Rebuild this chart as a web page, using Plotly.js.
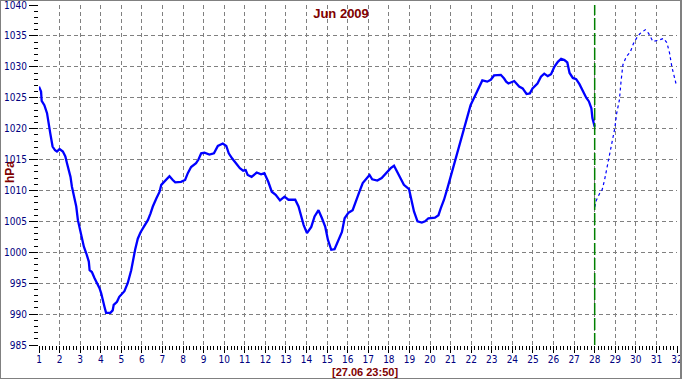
<!DOCTYPE html>
<html>
<head>
<meta charset="utf-8">
<script src="https://cdn.plot.ly/plotly-3.0.1.min.js"></script>
<style>
html,body{margin:0;padding:0;background:#fff;}
#wrap{position:relative;width:682px;height:380px;}
#chart{width:682px;height:380px;}
#frame{position:absolute;left:0;top:0;width:682px;height:379px;box-sizing:border-box;border:1px solid #808080;border-right-width:2px;pointer-events:none;}
</style>
</head>
<body>
<div id="wrap"><div id="chart"></div><div id="frame"></div></div>
<script>
// Measured pressure (day of month, hPa)
const measDays = [1.00,1.10,1.13,1.26,1.39,1.45,1.55,1.66,1.78,1.87,2.00,2.16,2.28,2.36,2.45,2.53,2.60,2.70,2.81,2.89,2.99,3.08,3.18,3.30,3.42,3.46,3.57,3.70,3.83,3.94,4.02,4.10,4.18,4.26,4.47,4.58,4.63,4.79,4.90,5.15,5.31,5.48,5.56,5.67,5.80,5.93,6.09,6.29,6.42,6.53,6.70,6.86,6.94,7.18,7.34,7.50,7.62,7.90,8.10,8.23,8.39,8.63,8.75,8.88,9.04,9.28,9.50,9.69,9.93,10.10,10.22,10.38,10.55,10.76,10.92,11.04,11.14,11.33,11.58,11.79,11.95,12.14,12.31,12.50,12.71,12.93,13.12,13.45,13.61,13.74,13.86,14.02,14.23,14.39,14.58,14.75,14.91,15.04,15.20,15.36,15.56,15.72,15.85,16.04,16.24,16.41,16.57,16.73,16.95,17.06,17.19,17.44,17.65,17.88,18.09,18.25,18.50,18.73,18.98,19.11,19.22,19.39,19.60,19.76,19.92,20.24,20.41,20.52,20.68,20.84,21.00,21.16,21.33,21.49,21.65,21.81,21.97,22.13,22.30,22.54,22.78,22.95,23.11,23.44,23.60,23.70,23.81,24.00,24.09,24.33,24.50,24.69,24.85,24.98,25.22,25.39,25.55,25.72,25.88,26.04,26.21,26.37,26.53,26.67,26.78,26.94,27.10,27.26,27.43,27.59,27.72,27.84,27.89,27.95,28.00];
const measHpa = [1026.8,1026.0,1024.5,1023.8,1022.5,1021.0,1019.2,1017.1,1016.5,1016.3,1016.7,1016.3,1015.5,1014.4,1013.3,1012.2,1010.6,1009.0,1007.4,1005.2,1003.6,1002.2,1000.9,999.8,998.5,997.1,996.8,995.8,995.0,994.2,993.4,992.0,991.2,990.2,990.2,990.6,991.5,992.0,992.8,993.7,995.0,997.1,998.7,1000.4,1002.2,1003.2,1004.1,1005.2,1006.3,1007.4,1008.7,1009.8,1010.9,1011.8,1012.3,1011.7,1011.3,1011.4,1011.7,1012.8,1013.8,1014.4,1015.0,1016.0,1016.1,1015.8,1016.0,1017.2,1017.6,1017.2,1016.0,1015.2,1014.4,1013.6,1013.2,1013.3,1012.5,1012.2,1012.9,1012.6,1012.8,1011.4,1009.8,1009.3,1008.4,1009.0,1008.5,1008.5,1007.4,1005.8,1004.4,1003.1,1004.1,1005.8,1006.8,1005.5,1004.1,1002.0,1000.4,1000.5,1002.0,1003.3,1005.5,1006.4,1006.8,1008.2,1009.8,1011.2,1012.0,1012.5,1011.8,1011.6,1012.0,1012.9,1013.6,1014.0,1012.5,1010.9,1010.2,1008.5,1006.6,1005.0,1004.8,1005.0,1005.5,1005.6,1006.0,1007.1,1008.5,1010.3,1012.2,1014.1,1016.0,1018.2,1020.1,1021.9,1023.8,1024.9,1026.2,1027.8,1027.6,1027.9,1028.6,1028.7,1028.1,1027.6,1027.3,1027.5,1027.7,1026.8,1026.5,1025.6,1025.7,1026.5,1027.3,1028.4,1028.9,1028.5,1028.8,1030.0,1030.8,1031.3,1031.1,1030.7,1029.0,1028.2,1028.0,1027.2,1026.0,1025.0,1024.4,1023.3,1021.7,1020.9,1020.3];

// Forecast pressure
const fcDays = [28.00,28.08,28.24,28.37,28.48,28.56,28.69,28.89,28.98,29.07,29.20,29.28,29.37,29.53,29.73,29.89,30.08,30.21,30.46,30.62,30.83,31.10,31.35,31.51,31.64,31.75,31.83,31.95];
const fcHpa = [1007.3,1008.4,1009.5,1010.2,1011.7,1013.0,1014.9,1018.2,1020.1,1022.5,1024.6,1027.6,1030.3,1031.6,1032.4,1033.8,1034.9,1035.4,1036.0,1035.4,1034.1,1034.3,1034.6,1033.9,1032.2,1030.0,1028.9,1027.3];

const nowDay = 28;
const titleText = 'Jun 2009';
const yLabel = 'hPa';
const stampText = '[27.06 23:50]';
const xRange = [1, 32];
const yRange = [985, 1040];

const tickFont = {family: 'Liberation Sans Narrow, Arial Narrow, DejaVu Sans Condensed, Liberation Sans, Arial, sans-serif', size: 10, color: '#000080'};
const redFont = {family: 'Liberation Sans, Arial, sans-serif', color: '#800000', weight: 'bold'};

const traces = [
  {x: measDays, y: measHpa, type: 'scatter', mode: 'lines', line: {color: '#0000ff', width: 2.3}, hoverinfo: 'skip'},
  {x: fcDays, y: fcHpa, type: 'scatter', mode: 'lines', line: {color: '#0000ff', width: 1.2, dash: '3px,3px'}, hoverinfo: 'skip'}
];

const layout = {
  width: 682, height: 380,
  margin: {l: 39, r: 5, t: 5, b: 35},
  paper_bgcolor: '#ffffff', plot_bgcolor: '#ffffff',
  showlegend: false,
  title: {text: titleText, font: Object.assign({size: 13}, redFont), x: 0.5, xref: 'container', xanchor: 'center', y: 1 - 13.5/380, yref: 'container', yanchor: 'middle'},
  xaxis: {
    range: xRange, tick0: 1, dtick: 1, ticks: 'outside', ticklen: 7, tickwidth: 1, tickcolor: '#000000',
    tickfont: tickFont, ticklabeloverflow: 'allow', ticklabelstandoff: -2, showgrid: true, gridcolor: '#808080', gridwidth: 1, griddash: '4px,3px',
    zeroline: false, showline: false, fixedrange: true,
    minor: {dtick: 1/6, ticks: 'outside', ticklen: 4, tickwidth: 1, tickcolor: '#000000', showgrid: false}
  },
  yaxis: {
    range: yRange, tick0: 985, dtick: 5, ticks: 'outside', ticklen: 9, tickwidth: 1, tickcolor: '#000000',
    tickfont: tickFont, ticklabeloverflow: 'allow', showgrid: true, gridcolor: '#808080', gridwidth: 1, griddash: '4px,3px',
    zeroline: false, showline: false, fixedrange: true,
    minor: {dtick: 1, ticks: 'outside', ticklen: 4, tickwidth: 1, tickcolor: '#000000', showgrid: false}
  },
  shapes: [
    {type: 'line', xref: 'x', yref: 'paper', x0: nowDay, x1: nowDay, y0: 0, y1: 1, line: {color: '#008000', width: 1.5, dash: '12px,3px'}, layer: 'above'}
  ],
  annotations: [
    {text: yLabel, xref: 'paper', yref: 'paper', x: (10 - 39) / 638, y: (345 - 172) / 340, textangle: -90, showarrow: false, xanchor: 'center', yanchor: 'middle', font: Object.assign({size: 12}, redFont)},
    {text: stampText, xref: 'paper', yref: 'paper', x: (365 - 39) / 638, y: -(372 - 345) / 340, showarrow: false, xanchor: 'center', yanchor: 'middle', font: Object.assign({size: 11}, redFont)}
  ]
};

Plotly.newPlot('chart', traces, layout, {displayModeBar: false, staticPlot: true});
</script>
</body>
</html>
